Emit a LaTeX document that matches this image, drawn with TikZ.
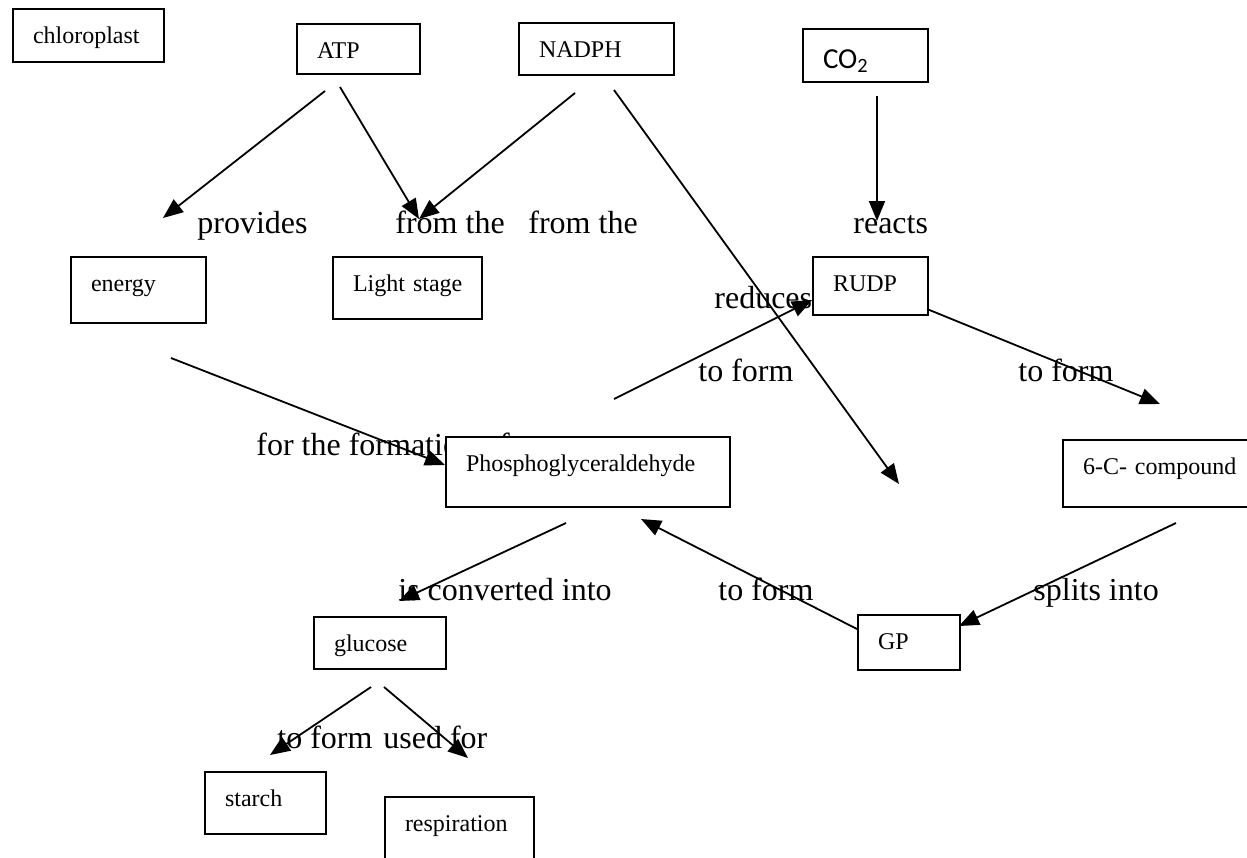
\documentclass[tikz,border=0pt]{standalone}
\usepackage{fontspec}
\setmainfont{Liberation Serif}
\newfontfamily\calibri{Carlito}
\usepackage{tikz}
\usetikzlibrary{arrows.meta}

\begin{document}
\begin{tikzpicture}[
  x=0.5pt, y=-0.5pt,
  every node/.style={font=\fontsize{12}{14}\selectfont},
  cbox/.style={draw, line width=1pt, fill=white, anchor=north west, align=left, inner xsep=10pt, inner ysep=0pt, text height=17pt},
  linkword/.style={font=\fontsize{16}{19}\selectfont, anchor=base west, inner sep=0pt},
  arrow/.style={-{Triangle[length=10pt,width=8pt]}, line width=0.9pt}
]
  \useasboundingbox (0,0) rectangle (1247,857);

  % Linking words
  \node[linkword] (provides) at (197,233) {provides};
  \node[linkword] (fromthe1) at (395,233) {from the};
  \node[linkword] (fromthe2) at (528,233) {from the};
  \node[linkword] (reacts) at (853,233) {reacts};
  \node[linkword] (reduces) at (714,308) {reduces};
  \node[linkword] (toform1) at (698,381) {to form};
  \node[linkword] (toform2) at (1018,381) {to form};
  \node[linkword] (formation) at (256,455) {for the formation of};
  \node[linkword] (converted) at (398,600) {is converted into};
  \node[linkword] (toform3) at (718,600) {to form};
  \node[linkword] (splits) at (1033,600) {splits into};
  \node[linkword] (toform4) at (277,748) {to form};
  \node[linkword] (usedfor) at (383,748) {used for};

  % Concepts, top row
  \node[cbox, text width=55.5pt, text depth=9.5pt] (chloroplast) at (12,8) {chloroplast};
  \node[cbox, text width=41.5pt, text depth=8pt] (atp) at (296,23) {ATP};
  \node[cbox, text width=57.5pt, text depth=9pt] (nadph) at (518,22) {NADPH};
  \node[cbox, font=\calibri\fontsize{14.5}{17}\selectfont, text width=42.5pt, text height=19.5pt, text depth=7pt] (co2) at (802,28) {CO\textsubscript{2}};

  % Concepts, middle
  \node[cbox, text width=47.5pt, text depth=16pt] (energy) at (70,256) {energy};
  \node[cbox, text width=54.5pt, text depth=14pt] (light) at (332,256) {Light~stage};
  \node[cbox, text width=37.5pt, text depth=12pt] (rudp) at (812,256) {RUDP};
  \node[cbox, text width=122pt, text depth=18pt] (pgal) at (445,436) {Phosphoglyceraldehyde};
  \node[cbox, text width=80pt, text depth=16.5pt] (sixc) at (1062,439) {6-C- compound};

  % Concepts, bottom
  \node[cbox, text width=46pt, text depth=9pt] (glucose) at (313,616) {glucose};
  \node[cbox, text width=31pt, text depth=10.5pt] (gp) at (857,614) {GP};
  \node[cbox, text width=40.5pt, text depth=14pt] (starch) at (204,771) {starch};
  \node[cbox, text width=54.5pt, text depth=20.5pt] (respiration) at (384,796) {respiration};

  % Arrow ends
  \coordinate (atp-o1) at (325,91);
  \coordinate (atp-o2) at (340,87);
  \coordinate (nadph-o1) at (575,93);
  \coordinate (nadph-o2) at (614,90);
  \coordinate (co2-o) at (877,96);
  \coordinate (energy-o) at (171,358);
  \coordinate (pgal-o1) at (614,399);
  \coordinate (pgal-o2) at (566,523);
  \coordinate (rudp-o) at (927,309);
  \coordinate (sixc-o) at (1176,523);
  \coordinate (gp-o) at (857,629);
  \coordinate (glucose-o1) at (371,687);
  \coordinate (glucose-o2) at (384,687);

  \coordinate (energy-i) at (163,218);
  \coordinate (light-i) at (419,219);
  \coordinate (rudp-i) at (877,221);
  \coordinate (rudp-i2) at (812,300);
  \coordinate (pgal-i) at (445,465);
  \coordinate (pgal-i2) at (641,519);
  \coordinate (sixc-i) at (1160,404);
  \coordinate (gp-i) at (899,484);
  \coordinate (gp-i2) at (959,626);
  \coordinate (glucose-i) at (399,601);
  \coordinate (starch-i) at (270,755);
  \coordinate (resp-i) at (468,758);

  % Arrows
  \draw[arrow] (atp-o1) -- (energy-i);
  \draw[arrow] (atp-o2) -- (light-i);
  \draw[arrow] (nadph-o1) -- (light-i);
  \draw[arrow] (nadph-o2) -- (gp-i);
  \draw[arrow] (co2-o) -- (rudp-i);
  \draw[arrow] (energy-o) -- (pgal-i);
  \draw[arrow] (pgal-o1) -- (rudp-i2);
  \draw[arrow] (rudp-o) -- (sixc-i);
  \draw[arrow] (sixc-o) -- (gp-i2);
  \draw[arrow] (gp-o) -- (pgal-i2);
  \draw[arrow] (pgal-o2) -- (glucose-i);
  \draw[arrow] (glucose-o1) -- (starch-i);
  \draw[arrow] (glucose-o2) -- (resp-i);

\end{tikzpicture}
\end{document}
